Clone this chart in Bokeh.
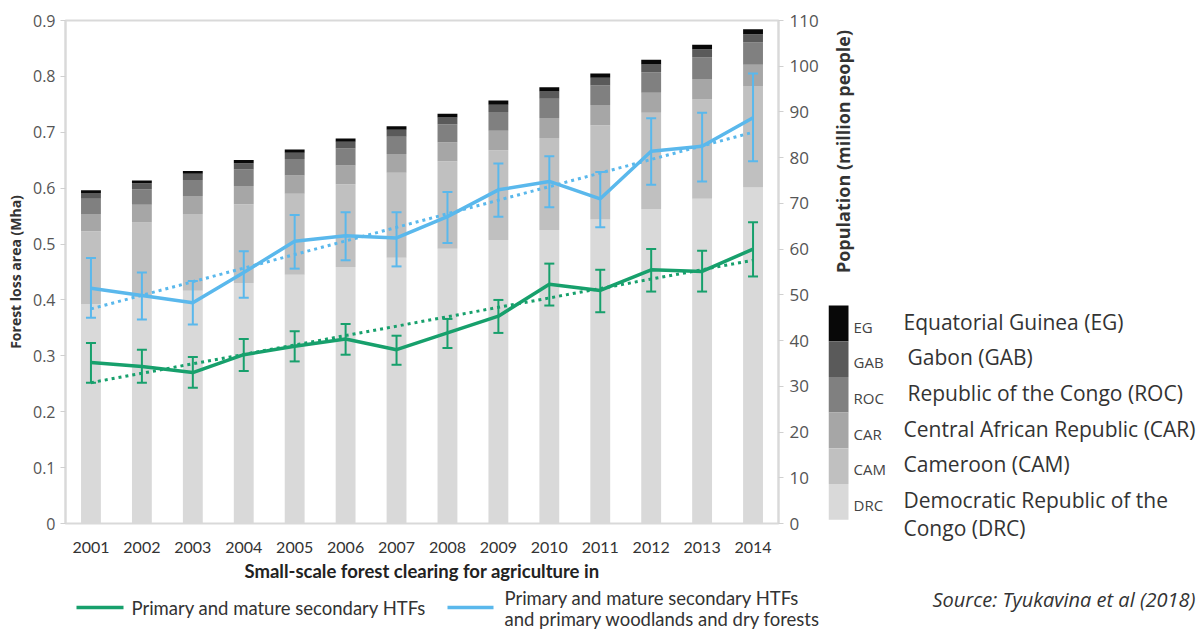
import math
from bokeh.plotting import figure
from bokeh.layouts import row, column
from bokeh.models import Range1d, LinearAxis, FixedTicker, ColumnDataSource
from bokeh.core.properties import value
from bokeh.embed import file_html
from bokeh.resources import INLINE

# ---------------- data ----------------
years = [2001, 2002, 2003, 2004, 2005, 2006, 2007, 2008, 2009, 2010, 2011, 2012, 2013, 2014]

# population (million people), stacked bars, right axis
drc = [48.0, 49.5, 50.9, 52.6, 54.4, 56.1, 58.1, 60.1, 62.0, 64.2, 66.5, 68.7, 71.0, 73.5]
cam = [15.9, 16.3, 16.8, 17.2, 17.7, 18.1, 18.6, 19.1, 19.6, 20.1, 20.6, 21.1, 21.7, 22.2]
car = [3.8, 3.9, 3.9, 4.0, 4.0, 4.1, 4.1, 4.2, 4.3, 4.4, 4.4, 4.4, 4.5, 4.6]
roc = [3.3, 3.4, 3.5, 3.6, 3.6, 3.7, 3.8, 3.9, 4.1, 4.2, 4.3, 4.5, 4.7, 4.9]
gab = [1.3, 1.3, 1.4, 1.4, 1.4, 1.5, 1.5, 1.5, 1.6, 1.6, 1.7, 1.7, 1.8, 1.8]
eg = [0.6, 0.6, 0.6, 0.7, 0.7, 0.7, 0.8, 0.8, 0.9, 0.9, 0.9, 1.0, 1.0, 1.1]

# forest loss area (Mha), left axis
htf = [0.288, 0.281, 0.270, 0.302, 0.317, 0.330, 0.311, 0.341, 0.371, 0.428, 0.417, 0.454, 0.451, 0.491]
htf_lo = [0.252, 0.252, 0.243, 0.273, 0.290, 0.302, 0.284, 0.314, 0.341, 0.390, 0.378, 0.415, 0.415, 0.442]
htf_hi = [0.323, 0.311, 0.298, 0.330, 0.344, 0.357, 0.336, 0.366, 0.400, 0.465, 0.454, 0.491, 0.488, 0.539]

allf = [0.421, 0.408, 0.395, 0.449, 0.505, 0.515, 0.511, 0.549, 0.597, 0.612, 0.581, 0.666, 0.675, 0.726]
allf_lo = [0.368, 0.365, 0.356, 0.404, 0.456, 0.471, 0.460, 0.502, 0.549, 0.566, 0.530, 0.606, 0.612, 0.648]
allf_hi = [0.475, 0.449, 0.434, 0.487, 0.552, 0.557, 0.557, 0.593, 0.644, 0.657, 0.629, 0.725, 0.735, 0.805]

trend_years = [2001, 2014]
htf_trend = [0.252, 0.471]
allf_trend = [0.384, 0.700]

left_ticks = [0, 0.1, 0.2, 0.3, 0.4, 0.5, 0.6, 0.7, 0.8, 0.9]
right_ticks = [0, 10, 20, 30, 40, 50, 60, 70, 80, 90, 100, 110]

countries = ["EG", "GAB", "ROC", "CAR", "CAM", "DRC"]
country_names = ["Equatorial Guinea (EG)", "Gabon (GAB)", "Republic of the Congo (ROC)",
                 "Central African Republic (CAR)", "Cameroon (CAM)",
                 "Democratic Republic of the", "Congo (DRC)"]
series_names = ["Primary and mature secondary HTFs",
                "Primary and mature secondary HTFs",
                "and primary woodlands and dry forests"]
right_title = "Population (million people)"
source_text = "Source: Tyukavina et al (2018)"

# ---------------- styles ----------------
GREEN = "#17a06c"
BLUE = "#5ab8ec"
STACK = ["drc", "cam", "car", "roc", "gab", "eg"]
BAR_COLORS = ["#d9d9d9", "#c0c0c0", "#a6a6a6", "#808080", "#5a5a5a", "#080808"]
SW_COLORS = ["#080808", "#5a5a5a", "#808080", "#a6a6a6", "#c0c0c0", "#d9d9d9"]
TXT = "#333333"

W, H = 1204, 630
MAIN_W, MAIN_H = 828, 585
FL, FR, FT, FB = 65, 778, 20, 523

# ---------------- main chart ----------------
p = figure(width=MAIN_W, height=MAIN_H, x_range=Range1d(2000.5, 2014.5), y_range=Range1d(0, 0.9),
           output_backend="svg", toolbar_location=None,
           min_border_left=FL, min_border_right=MAIN_W - FR,
           min_border_top=FT, min_border_bottom=MAIN_H - FB)
p.extra_y_ranges = {"pop": Range1d(0, 110)}
p.xgrid.visible = False
p.ygrid.visible = False
p.outline_line_color = "#d9d9d9"
p.outline_line_width = 2

src = ColumnDataSource(dict(year=years, drc=drc, cam=cam, car=car, roc=roc, gab=gab, eg=eg,
                            htf=htf, htf_lo=htf_lo, htf_hi=htf_hi,
                            allf=allf, allf_lo=allf_lo, allf_hi=allf_hi))

p.vbar_stack(STACK, x="year", width=0.39, source=src, y_range_name="pop",
             color=BAR_COLORS, line_color=None)

# dotted trend lines
p.line(trend_years, htf_trend, line_color=GREEN, line_width=3, line_dash="3 4")
p.line(trend_years, allf_trend, line_color=BLUE, line_width=3, line_dash="3 4")

# error bars (glyphs)
for col, lo, hi in ((GREEN, "htf_lo", "htf_hi"), (BLUE, "allf_lo", "allf_hi")):
    p.segment(x0="year", y0=lo, x1="year", y1=hi, source=src, line_color=col, line_width=2)
    p.scatter(x="year", y=lo, source=src, marker="dash", size=10, line_color=col, line_width=2)
    p.scatter(x="year", y=hi, source=src, marker="dash", size=10, line_color=col, line_width=2)

# main lines
p.line("year", "htf", source=src, line_color=GREEN, line_width=3.5)
p.line("year", "allf", source=src, line_color=BLUE, line_width=3.5)

# x axis
xa = p.xaxis[0]
xa.ticker = FixedTicker(ticks=years)
xa.axis_line_color = None
xa.major_tick_line_color = None
xa.minor_tick_line_color = None
xa.major_label_text_font = "Lato"
xa.major_label_text_font_size = "16px"
xa.major_label_text_color = TXT
xa.major_label_standoff = 12
xa.axis_label = "Small-scale forest clearing for agriculture in"
xa.axis_label_text_font = "Lato"
xa.axis_label_text_font_style = "bold"
xa.axis_label_text_font_size = "18.5px"
xa.axis_label_text_color = "#222222"
xa.axis_label_standoff = 4

# left axis
ya = p.yaxis[0]
ya.ticker = FixedTicker(ticks=left_ticks)
ya.axis_line_color = "#d9d9d9"
ya.axis_line_width = 2
ya.major_tick_line_color = "#d0d0d0"
ya.major_tick_out = 5
ya.major_tick_in = 0
ya.minor_tick_line_color = None
ya.major_label_text_font = "Open Sans"
ya.major_label_text_font_size = "16px"
ya.major_label_text_color = "#555555"
ya.major_label_standoff = 5
ya.axis_label = "Forest loss area (Mha)"
ya.axis_label_text_font = "Open Sans"
ya.axis_label_text_font_style = "bold"
ya.axis_label_text_font_size = "14px"
ya.axis_label_text_color = TXT
ya.axis_label_standoff = 5

# right axis (title drawn in the side panel)
ra = LinearAxis(y_range_name="pop", ticker=FixedTicker(ticks=right_ticks))
ra.axis_line_color = "#d9d9d9"
ra.axis_line_width = 2
ra.major_tick_line_color = "#d0d0d0"
ra.major_tick_out = 5
ra.major_tick_in = 0
ra.minor_tick_line_color = None
ra.major_label_text_font = "Open Sans"
ra.major_label_text_font_size = "17px"
ra.major_label_text_color = "#555555"
ra.major_label_standoff = 6
p.add_layout(ra, "right")


def blank(width, height, x0, x1, y0, y1):
    f = figure(width=width, height=height, x_range=Range1d(x0, x1), y_range=Range1d(y0, y1),
               output_backend="svg", toolbar_location=None,
               x_axis_location=None, y_axis_location=None,
               min_border=0, min_border_left=0, min_border_right=0,
               min_border_top=0, min_border_bottom=0)
    f.xgrid.visible = False
    f.ygrid.visible = False
    f.outline_line_color = None
    return f


# ---------------- right side panel (page px coords) ----------------
s = blank(W - MAIN_W, MAIN_H, MAIN_W, W, MAIN_H, 0)
sw_top, sw_h = 305, 35.7
tops = [sw_top + i * sw_h for i in range(6)]
s.quad(left=828, right=848, top=tops, bottom=[t + sw_h for t in tops],
       fill_color=SW_COLORS, line_color=None)
s.text(x=853, y=[t + 21 for t in tops], text=countries,
       text_font=value("Open Sans"), text_font_size="15px", text_color="#444444",
       text_baseline="middle", text_align="left")
name_x = [903, 907, 907, 903, 903, 903, 903]
name_y = [t + 16 for t in tops] + [tops[-1] + 44]
s.text(x=name_x, y=name_y, text=country_names,
       text_font=value("Open Sans"), text_font_size="21px", text_color=TXT,
       text_baseline="middle", text_align="left")
s.text(x=[842], y=[151], text=[right_title], angle=math.pi / 2,
       text_font=value("Open Sans"), text_font_style="bold", text_font_size="18px",
       text_color=TXT, text_baseline="middle", text_align="center")

# ---------------- bottom legend panel (page px coords) ----------------
b = blank(W, H - MAIN_H, 0, W, H, MAIN_H)
b.segment(x0=[76], y0=[607], x1=[123], y1=[607], line_color=GREEN, line_width=3.5)
b.segment(x0=[447], y0=[607], x1=[493], y1=[607], line_color=BLUE, line_width=3.5)
b.text(x=[131, 504, 504], y=[607, 597, 618], text=series_names,
       text_font=value("Lato"), text_font_size="18.5px", text_color=TXT,
       text_baseline="middle", text_align="left")
b.text(x=[932], y=[599], text=[source_text],
       text_font=value("Open Sans"), text_font_style="italic", text_font_size="20px",
       text_color=TXT, text_baseline="middle", text_align="left")

layout = column(row(column(p), s, spacing=0), b, spacing=0)
open("out.html", "w").write(file_html(layout, INLINE))
